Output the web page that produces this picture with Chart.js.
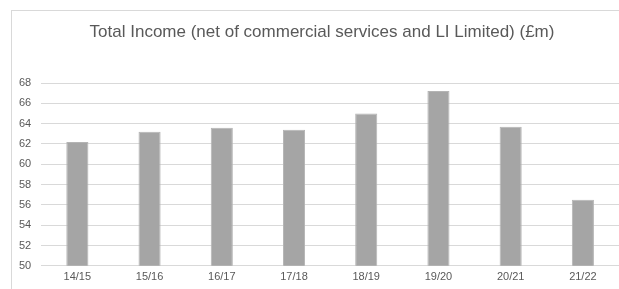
<!DOCTYPE html>
<html>
<head>
<meta charset="utf-8">
<script src="https://cdn.jsdelivr.net/npm/chart.js@4"></script>
<style>
    html, body { margin: 0; padding: 0; background: #fff; }
    #wrap { position: relative; width: 619px; height: 289px; overflow: hidden; }
    #frame { position: absolute; left: 11px; top: 10px; width: 700px; height: 400px;
             border-left: 1px solid #d9d9d9; border-top: 1px solid #d9d9d9; }
    canvas { position: absolute; left: 0; top: 0; }
</style>
</head>
<body>
<div id="wrap">
    <div id="frame"></div>
    <canvas id="incomeChart" width="619" height="289"></canvas>
</div>
<script>
const years = ["14/15", "15/16", "16/17", "17/18", "18/19", "19/20", "20/21", "21/22"];
const income = [62.2, 63.2, 63.6, 63.4, 65.0, 67.2, 63.7, 56.5];
const chartTitle = "Total Income (net of commercial services and LI Limited) (£m)";

const FONT = "'Liberation Sans', Arial, sans-serif";

// title is centred on the (cropped) Excel frame, not on the canvas
const frameTitle = {
    id: "frameTitle",
    afterDraw(chart) {
        const c = chart.ctx;
        c.save();
        c.fillStyle = "#595959";
        c.font = "17px " + FONT;
        c.textAlign = "center";
        c.textBaseline = "middle";
        c.fillText(chartTitle, 322, 32);
        c.restore();
    }
};

const ctx = document.getElementById("incomeChart").getContext("2d");

new Chart(ctx, {
    type: "bar",
    data: {
        labels: years,
        datasets: [{
            label: "Total Income",
            data: income,
            backgroundColor: "#a5a5a5",
            borderColor: "#b4b4b4",
            borderWidth: 1,
            barPercentage: 0.306,
            categoryPercentage: 1
        }]
    },
    plugins: [frameTitle],
    options: {
        responsive: false,
        animation: false,
        layout: { padding: { left: 9, right: 0, top: 83, bottom: 0 } },
        plugins: {
            legend: { display: false },
            tooltip: { enabled: false },
            title: { display: false }
        },
        scales: {
            x: {
                grid: { display: false, drawTicks: false },
                border: { display: false },
                ticks: {
                    color: "#595959",
                    font: { family: FONT, size: 11 },
                    padding: 5
                }
            },
            y: {
                min: 50,
                max: 68,
                grid: { color: "#d9d9d9", lineWidth: 1, drawTicks: false },
                border: { display: false },
                ticks: {
                    stepSize: 2,
                    color: "#595959",
                    font: { family: FONT, size: 11 },
                    padding: 10
                }
            }
        }
    }
});
</script>
</body>
</html>
